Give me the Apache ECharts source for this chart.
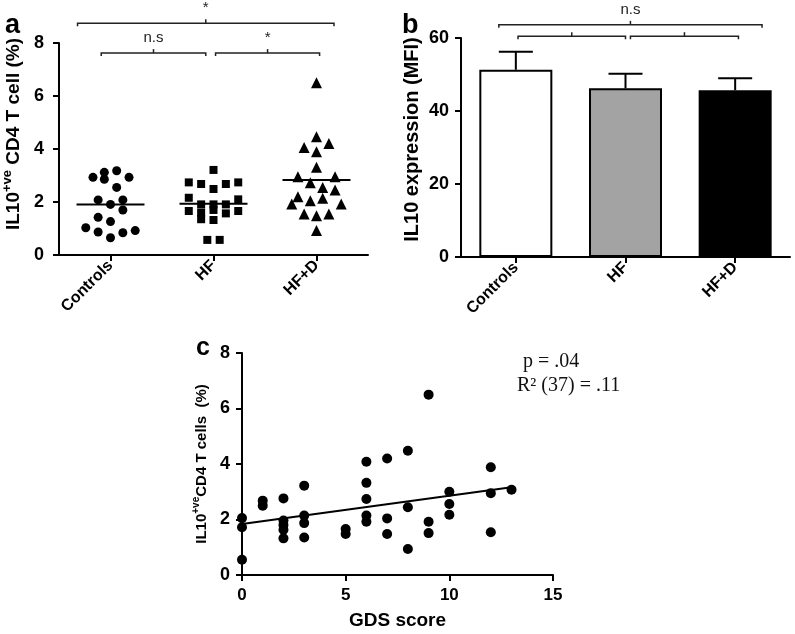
<!DOCTYPE html>
<html><head><meta charset="utf-8">
<script src="https://cdn.jsdelivr.net/npm/echarts@6/dist/echarts.min.js"></script>
<style>html,body{margin:0;padding:0;background:#fff}#c{width:795px;height:634px}</style>
</head><body><div id="c"></div>
<script>
// ---------- data ----------
const groups = ['Controls', 'HF', 'HF+D'];
// panel a: % IL10+ve CD4 T cells, per group (value, horizontal jitter in category units)
const ctrlValues = [2.93, 3.12, 3.18, 2.86, 2.93, 2.55, 2.08, 2.08, 1.91, 1.70, 1.42, 1.26, 1.03, 0.92, 0.87, 0.84, 0.65];
const ctrlJitter = [-0.17, -0.06, 0.06, -0.06, 0.18, 0.06, -0.12, 0.12, 0, 0.12, -0.12, 0, -0.24, 0.24, -0.12, 0.12, 0];
const hfValues = [3.21, 2.74, 2.68, 2.49, 2.68, 2.74, 2.16, 2.10, 1.91, 1.91, 1.91, 1.66, 1.60, 1.35, 1.70, 1.32, 1.57, 1.66, 0.57, 0.57];
const hfJitter = [0, -0.24, -0.12, 0, 0.12, 0.24, -0.24, 0.24, -0.12, 0, 0.12, -0.24, -0.12, -0.12, 0, 0, 0.12, 0.24, -0.06, 0.06];
const hfdValues = [6.50, 4.46, 4.06, 4.21, 3.90, 3.31, 2.95, 2.95, 2.73, 2.55, 2.45, 2.20, 2.14, 1.92, 2.05, 1.92, 1.55, 1.48, 1.55, 0.92];
const hfdJitter = [0, 0, -0.12, 0.12, 0, 0, -0.18, 0.18, -0.06, 0.06, 0.18, -0.18, 0.06, -0.24, -0.06, 0.24, -0.12, 0, 0.12, 0];
const groupMedians = [1.91, 1.93, 2.83];
const aTicks = [0, 2, 4, 6, 8];
// significance brackets (from / to in category units, level in axis units)
const aBrackets = [
  {from: -0.32, to: 2.17, level: 8.75, label: '*'},
  {from: -0.09, to: 0.925, level: 7.62, label: 'n.s'},
  {from: 1.02, to: 2.03, level: 7.62, label: '*'}
];
// panel b: IL10 expression (MFI)
const mfiMeans = [51.3, 46.2, 45.7];
const mfiErr = [4.9, 4.0, 3.3];
const bTicks = [0, 20, 40, 60];
const bBrackets = [
  {from: -0.155, to: 2.245, level: 63.6, label: 'n.s'},
  {from: 0.02, to: 1.0, level: 60.5, label: ''},
  {from: 1.045, to: 2.03, level: 60.5, label: ''}
];
// panel c: GDS score vs IL10+ve CD4 T cells
const gdsX = [0,0,0, 1,1, 2,2,2,2,2, 3,3,3,3, 5,5, 6,6,6,6,6, 7,7,7, 8,8,8, 9,9,9, 10,10,10, 12,12,12, 13];
const gdsY = [2.05,1.72,0.55, 2.68,2.5, 2.76,1.96,1.80,1.63,1.32, 3.22,2.14,1.87,1.35, 1.66,1.48, 4.08,3.32,2.74,2.14,1.92, 4.2,2.04,1.48, 4.48,2.44,0.94, 6.5,1.92,1.51, 3.0,2.56,2.17, 3.88,2.95,1.54, 3.07];
const fitX = [0, 13];
const fitY = [1.84, 3.16];
const cXTicks = [0, 5, 10, 15];
const cYTicks = [0, 2, 4, 6, 8];
const statP = 'p = .04';
const statR = 'R\u00B2 (37) = .11';

// ---------- styles ----------
const FONT = '"Liberation Sans", Arial, sans-serif';
const BLACK = '#000';
const axisLine = {show: true, onZero: false, lineStyle: {color: BLACK, width: 2}};
const tickOut = len => ({show: true, inside: false, length: len, lineStyle: {color: BLACK, width: 2}});
const boldLabel = (size, margin) => ({color: BLACK, fontFamily: FONT, fontWeight: 'bold', fontSize: size, margin: margin});
const markStyle = {color: BLACK, opacity: 1};

function zipPts(vals, jit, g) { return vals.map((v, i) => [g + jit[i], v]); }

function bracketRender(params, api, labels) {
  const y = api.value(2);
  const p1 = api.coord([api.value(0), y]);
  const p2 = api.coord([api.value(1), y]);
  const mx = (p1[0] + p2[0]) / 2;
  const children = [
    {type: 'polyline', shape: {points: [[p1[0], p1[1] + 3], [p1[0], p1[1]], [p2[0], p2[1]], [p2[0], p2[1] + 3]]},
     style: {stroke: '#222', lineWidth: 1.5, fill: null}},
    {type: 'line', shape: {x1: mx, y1: p1[1], x2: mx, y2: p1[1] - 4}, style: {stroke: '#222', lineWidth: 1.5}}
  ];
  const lab = labels[params.dataIndex];
  if (lab) {
    children.push({type: 'text', x: mx, y: p1[1] - 15,
      style: {text: lab, fill: '#222', font: '15px ' + FONT, align: 'center', verticalAlign: 'middle'}});
  }
  return {type: 'group', children: children};
}

const chart = echarts.init(document.getElementById('c'), null, {renderer: 'canvas'});

const ySupName = (size, shift) => ({
  color: BLACK, fontFamily: FONT, fontWeight: 'bold', fontSize: size, padding: [0, 0, 0, shift],
  rich: {
    m: {fontFamily: FONT, fontWeight: 'bold', fontSize: size, color: BLACK, lineHeight: size + 6},
    s: {fontFamily: FONT, fontWeight: 'bold', fontSize: Math.round(size * 0.68), color: BLACK, verticalAlign: 'top', lineHeight: size + 6}
  }
});

const option = {
  animation: false,
  backgroundColor: '#fff',
  grid: [
    {left: 50, top: 43, width: 318, height: 212},
    {left: 461, top: 38, width: 329, height: 219},
    {left: 242, top: 353, width: 311, height: 222}
  ],
  xAxis: [
    {gridIndex: 0, type: 'category', data: groups, boundaryGap: true,
     axisLine: axisLine, axisTick: Object.assign(tickOut(6), {alignWithLabel: true}),
     axisLabel: Object.assign(boldLabel(16, 8), {rotate: 45}), splitLine: {show: false}},
    {gridIndex: 0, type: 'value', min: -0.5, max: 2.5, show: false},
    {gridIndex: 1, type: 'category', data: groups, boundaryGap: true,
     axisLine: axisLine, axisTick: Object.assign(tickOut(6), {alignWithLabel: true}),
     axisLabel: Object.assign(boldLabel(16, 8), {rotate: 45}), splitLine: {show: false}},
    {gridIndex: 1, type: 'value', min: -0.5, max: 2.5, show: false},
    {gridIndex: 2, type: 'value', min: cXTicks[0], max: cXTicks[cXTicks.length - 1], interval: 5,
     axisLine: axisLine, axisTick: tickOut(6), axisLabel: boldLabel(17, 12), splitLine: {show: false},
     name: 'GDS score', nameLocation: 'middle', nameGap: 36,
     nameTextStyle: {color: BLACK, fontFamily: FONT, fontWeight: 'bold', fontSize: 19}}
  ],
  yAxis: [
    {gridIndex: 0, type: 'value', min: aTicks[0], max: aTicks[aTicks.length - 1], interval: 2,
     axisLine: axisLine, axisTick: tickOut(6), axisLabel: boldLabel(18, 15), splitLine: {show: false},
     name: '{m|IL10}{s|+ve}{m| CD4 T cell (%)}', nameLocation: 'middle', nameGap: 33, nameRotate: 90,
     nameTextStyle: ySupName(19, 30)},
    {gridIndex: 1, type: 'value', min: bTicks[0], max: bTicks[bTicks.length - 1], interval: 20,
     axisLine: axisLine, axisTick: tickOut(6), axisLabel: boldLabel(18, 12), splitLine: {show: false},
     name: 'IL10 expression (MFI)', nameLocation: 'middle', nameGap: 39, nameRotate: 90,
     nameTextStyle: {color: BLACK, fontFamily: FONT, fontWeight: 'bold', fontSize: 20, padding: [0, 0, 0, 16]}},
    {gridIndex: 2, type: 'value', min: cYTicks[0], max: cYTicks[cYTicks.length - 1], interval: 2,
     axisLine: axisLine, axisTick: tickOut(6), axisLabel: boldLabel(18, 12), splitLine: {show: false},
     name: '{m|IL10}{s|+ve}{m|CD4 T cells  (%)}', nameLocation: 'middle', nameGap: 30, nameRotate: 90,
     nameTextStyle: ySupName(15, 0)}
  ],
  series: [
    {type: 'scatter', xAxisIndex: 1, yAxisIndex: 0, symbol: 'circle', symbolSize: 9,
     itemStyle: markStyle, data: zipPts(ctrlValues, ctrlJitter, 0)},
    {type: 'scatter', xAxisIndex: 1, yAxisIndex: 0, symbol: 'rect', symbolSize: 8,
     itemStyle: markStyle, data: zipPts(hfValues, hfJitter, 1)},
    {type: 'scatter', xAxisIndex: 1, yAxisIndex: 0, symbol: 'triangle', symbolSize: 11,
     itemStyle: markStyle, data: zipPts(hfdValues, hfdJitter, 2)},
    {type: 'custom', xAxisIndex: 1, yAxisIndex: 0, clip: false, z: 5,
     data: groupMedians.map((m, i) => [i, m]),
     renderItem: (params, api) => {
       const c = api.coord([api.value(0), api.value(1)]);
       const hw = api.size([0.33, 0])[0];
       return {type: 'line', shape: {x1: c[0] - hw, y1: c[1], x2: c[0] + hw, y2: c[1]}, style: {stroke: BLACK, lineWidth: 2}};
     }},
    {type: 'custom', xAxisIndex: 1, yAxisIndex: 0, clip: false, silent: true,
     data: aBrackets.map(b => [b.from, b.to, b.level]),
     renderItem: (params, api) => bracketRender(params, api, aBrackets.map(b => b.label))},
    {type: 'bar', xAxisIndex: 2, yAxisIndex: 1, barWidth: 73,
     data: mfiMeans.map((v, i) => ({value: v, itemStyle: {color: ['#ffffff', '#a3a3a3', '#000000'][i], borderColor: BLACK, borderWidth: 2, opacity: 1}}))},
    {type: 'custom', xAxisIndex: 3, yAxisIndex: 1, clip: false, z: 5,
     data: mfiMeans.map((v, i) => [i, v, v + mfiErr[i]]),
     renderItem: (params, api) => {
       const b = api.coord([api.value(0), api.value(1)]);
       const t = api.coord([api.value(0), api.value(2)]);
       const hw = api.size([0.155, 0])[0];
       return {type: 'group', children: [
         {type: 'line', shape: {x1: b[0], y1: b[1], x2: t[0], y2: t[1]}, style: {stroke: BLACK, lineWidth: 2}},
         {type: 'line', shape: {x1: t[0] - hw, y1: t[1], x2: t[0] + hw, y2: t[1]}, style: {stroke: BLACK, lineWidth: 2}}
       ]};
     }},
    {type: 'custom', xAxisIndex: 3, yAxisIndex: 1, clip: false, silent: true,
     data: bBrackets.map(b => [b.from, b.to, b.level]),
     renderItem: (params, api) => bracketRender(params, api, bBrackets.map(b => b.label))},
    {type: 'scatter', xAxisIndex: 4, yAxisIndex: 2, symbol: 'circle', symbolSize: 10,
     itemStyle: markStyle, data: gdsX.map((x, i) => [x, gdsY[i]])},
    {type: 'line', xAxisIndex: 4, yAxisIndex: 2, symbol: 'none', z: 4,
     lineStyle: {color: BLACK, width: 2}, data: fitX.map((x, i) => [x, fitY[i]])}
  ],
  graphic: [
    {type: 'text', left: 5, top: 12, style: {text: 'a', font: 'bold 27px ' + FONT, fill: BLACK}},
    {type: 'text', left: 402, top: 12, style: {text: 'b', font: 'bold 27px ' + FONT, fill: BLACK}},
    {type: 'text', left: 196, top: 336, style: {text: 'c', font: 'bold 25px ' + FONT, fill: BLACK}},
    {type: 'text', left: 523, top: 352, style: {text: statP, font: '20px "Liberation Serif", "Times New Roman", serif', fill: '#111'}},
    {type: 'text', left: 517, top: 376, style: {text: statR, font: '20px "Liberation Serif", "Times New Roman", serif', fill: '#111'}}
  ]
};
chart.setOption(option);
</script>
</body></html>
